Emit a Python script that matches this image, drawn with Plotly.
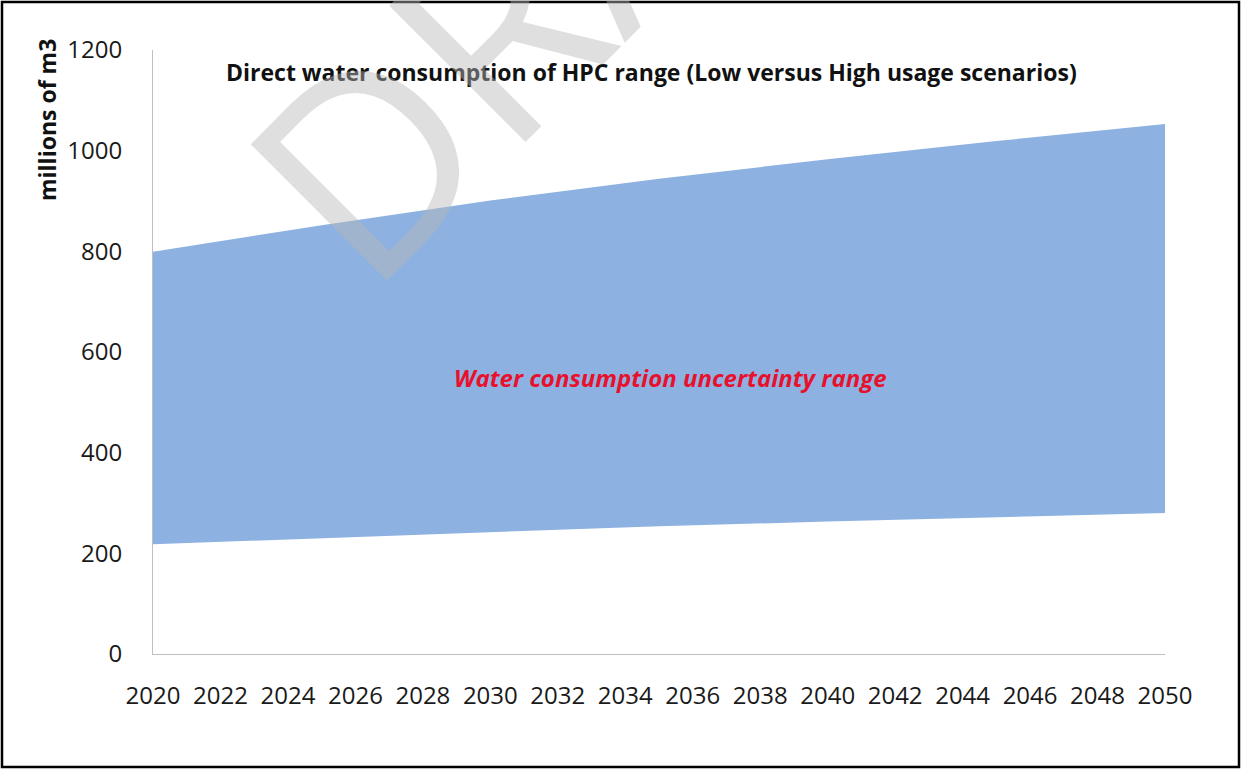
import plotly.graph_objects as go

# Data (millions of m3)
years = [2020, 2025, 2030, 2035, 2040, 2045, 2050]
low_usage = [218, 230, 242, 254, 263, 272, 280]
high_usage = [799, 852, 901, 944, 983, 1019, 1053]

x_ticks = list(range(2020, 2051, 2))
y_ticks = [0, 200, 400, 600, 800, 1000, 1200]

title_text = "Direct water consumption of HPC range (Low versus High usage scenarios)"
band_label = "Water consumption uncertainty range"
y_title = "millions of m3"
watermark = "DRAFT"

FONT = "Open Sans"
BAND = "#8db1e1"

fig = go.Figure()
fig.add_trace(go.Scatter(x=years, y=low_usage, mode="lines",
                         line=dict(width=0, color=BAND), showlegend=False,
                         hoverinfo="skip"))
fig.add_trace(go.Scatter(x=years, y=high_usage, mode="lines", fill="tonexty",
                         fillcolor=BAND, line=dict(width=0, color=BAND),
                         showlegend=False))

W, H = 1241, 769
L, R, T, B = 153, 76, 50, 115
pw, ph = W - L - R, H - T - B

def px(x):
    return (x - L) / pw

def py(y):
    return (H - B - y) / ph

fig.update_layout(
    width=W, height=H,
    margin=dict(l=L, r=R, t=T, b=B, pad=0),
    paper_bgcolor="white", plot_bgcolor="white",
    font=dict(family=FONT, color="#1a1a1a"),
    showlegend=False,
    xaxis=dict(range=[2020, 2050], tickmode="array", tickvals=x_ticks,
               ticktext=[str(v) for v in x_ticks],
               showgrid=False, zeroline=False, showline=True,
               linecolor="#bfbfbf", linewidth=1, ticks="",
               ticklabelstandoff=20,
               tickfont=dict(size=24, family=FONT, color="#1a1a1a")),
    yaxis=dict(range=[0, 1200], tickmode="array", tickvals=y_ticks,
               showgrid=False, zeroline=False, showline=True,
               linecolor="#bfbfbf", linewidth=1, ticks="",
               ticklabelstandoff=25,
               tickfont=dict(size=24, family=FONT, color="#1a1a1a")),
    annotations=[
        dict(text=title_text, xref="paper", yref="paper", x=px(651), y=py(72),
             xanchor="center", yanchor="middle", showarrow=False,
             font=dict(size=23, family=FONT, color="#111111", weight="bold")),
        dict(text=y_title, xref="paper", yref="paper", x=px(47), y=py(120),
             xanchor="center", yanchor="middle", showarrow=False, textangle=-90,
             font=dict(size=23, family=FONT, color="#111111", weight="bold")),
        dict(text=band_label, xref="x", yref="y", x=2035.33, y=550,
             xanchor="center", yanchor="middle", showarrow=False,
             font=dict(size=24, family=FONT, color="#e8112d", weight="bold",
                       style="italic")),
        dict(text=watermark, xref="paper", yref="paper", x=px(584), y=py(-65),
             xanchor="center", yanchor="middle", showarrow=False, textangle=-45,
             font=dict(size=270, family=FONT, color="rgba(185,185,185,0.45)")),
    ],
    shapes=[
        dict(type="rect", xref="paper", yref="paper",
             x0=px(2), x1=px(1239), y0=py(767), y1=py(2),
             line=dict(color="black", width=2.5), fillcolor="rgba(0,0,0,0)",
             layer="above"),
    ],
)

fig.write_html("out.html",
               config={"displayModeBar": False},
               post_script="document.body.style.margin='0';"
                           "document.body.style.overflow='hidden';")
